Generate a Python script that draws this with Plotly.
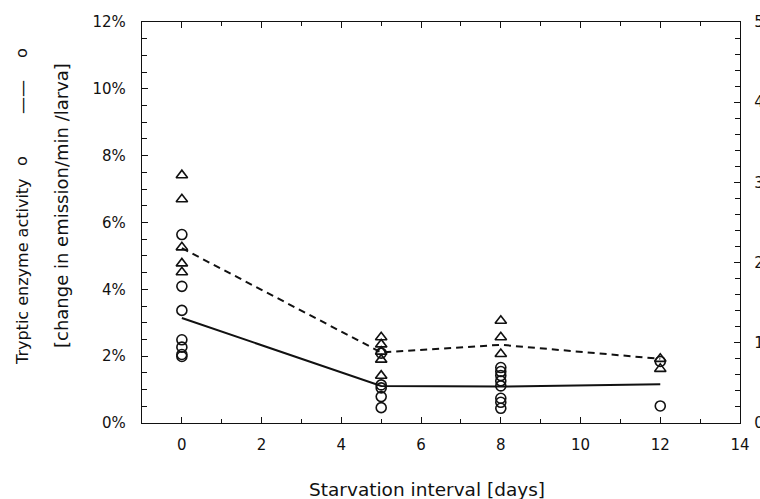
import plotly.graph_objects as go

# ---- data ----
days_circles = [0]*7 + [5]*5 + [8]*8 + [12]*2
tryptic_pct = [5.64, 4.09, 3.37, 2.49, 2.27, 2.05, 1.99,
               2.09, 1.14, 1.05, 0.79, 0.46,
               1.66, 1.54, 1.42, 1.26, 1.11, 0.74, 0.62, 0.44,
               1.84, 0.51]

days_triangles = [0]*5 + [5]*5 + [8]*3 + [12]*2
triangle_vals = [3.09, 2.79, 2.19, 1.99, 1.88,
                 1.07, 0.98, 0.89, 0.79, 0.59,
                 1.275, 1.07, 0.86,
                 0.80, 0.675]

mean_days = [0, 5, 8, 12]
tryptic_mean = [3.14, 1.11, 1.09, 1.16]
triangle_mean = [2.18, 0.88, 0.975, 0.80]

x_tickvals = [0, 2, 4, 6, 8, 10, 12, 14]
x_ticktext = ["0", "2", "4", "6", "8", "10", "12", "14"]
y_tickvals = [0, 2, 4, 6, 8, 10, 12]
y_ticktext = ["0%", "2%", "4%", "6%", "8%", "10%", "12%"]
y2_tickvals = [0, 1, 2, 3, 4, 5]
y2_ticktext = ["0", "1", "2", "3", "4", "5"]

# ---- geometry ----
W, H = 760, 499
L, R, T, B = 142, 20, 22, 76
PW, PH = W - L - R, H - T - B


def px(xp):
    return (xp - L) / PW


def py(yp):
    return (H - B - yp) / PH


FONT = "DejaVu Sans"
BLACK = "#111111"

fig = go.Figure()
fig.add_trace(go.Scatter(x=mean_days, y=triangle_mean, yaxis="y2", mode="lines",
                         line=dict(color=BLACK, width=2, dash="7px,5px"), hoverinfo="skip"))
fig.add_trace(go.Scatter(x=mean_days, y=tryptic_mean, mode="lines",
                         line=dict(color=BLACK, width=2), hoverinfo="skip"))
fig.add_trace(go.Scatter(x=days_triangles, y=triangle_vals, yaxis="y2", mode="markers",
                         marker=dict(symbol="triangle-up-open", size=10, color=BLACK,
                                     line=dict(width=1.6, color=BLACK))))
fig.add_trace(go.Scatter(x=days_circles, y=tryptic_pct, mode="markers",
                         marker=dict(symbol="circle-open", size=10, color=BLACK,
                                     line=dict(width=1.6, color=BLACK))))

axis_common = dict(showgrid=False, zeroline=False, showline=True, linecolor=BLACK,
                   linewidth=1.3, ticks="inside", tickcolor=BLACK, tickwidth=1,
                   tickfont=dict(family=FONT, size=15, color=BLACK))

fig.update_layout(
    width=W, height=H,
    margin=dict(l=L, r=R, t=T, b=B, autoexpand=False),
    paper_bgcolor="white", plot_bgcolor="white",
    showlegend=False,
    xaxis=dict(range=[-1, 14], tickvals=x_tickvals, ticktext=x_ticktext,
               ticklen=6, mirror="ticks", ticklabelstandoff=8,
               minor=dict(ticks="inside", dtick=1, tick0=0, ticklen=4,
                          tickcolor=BLACK), **axis_common),
    yaxis=dict(range=[0, 12], tickvals=y_tickvals, ticktext=y_ticktext,
               ticklen=6, ticklabelstandoff=12,
               minor=dict(ticks="inside", dtick=0.5, tick0=0, ticklen=5,
                          tickcolor=BLACK), **axis_common),
    yaxis2=dict(range=[0, 5], overlaying="y", side="right", tickvals=y2_tickvals,
                ticktext=y2_ticktext, ticklen=6, ticklabelstandoff=10, automargin=False,
                minor=dict(ticks="inside", dtick=0.2, tick0=0, ticklen=5,
                           tickcolor=BLACK), **axis_common),
)

ann = dict(xref="paper", yref="paper", showarrow=False, xanchor="center", yanchor="middle")
fig.add_annotation(text="Tryptic enzyme activity", x=px(22), y=py(272), textangle=-90,
                   font=dict(family=FONT, size=16, color=BLACK), **ann)
fig.add_annotation(text="o", x=px(22), y=py(161), textangle=-90,
                   font=dict(family=FONT, size=16, color=BLACK), **ann)
fig.add_annotation(text="——", x=px(22), y=py(97), textangle=-90,
                   font=dict(family=FONT, size=17, color=BLACK), **ann)
fig.add_annotation(text="o", x=px(22), y=py(53), textangle=-90,
                   font=dict(family=FONT, size=16, color=BLACK), **ann)
fig.add_annotation(text="[change in emission/min /larva]", x=px(62), y=py(206), textangle=-90,
                   font=dict(family=FONT, size=18, color=BLACK), **ann)
fig.add_annotation(text="Starvation interval [days]", x=px(427), y=py(490),
                   font=dict(family=FONT, size=18.5, color=BLACK), **ann)

fig.write_html("out.html", config={"displayModeBar": False},
               post_script="document.body.style.margin='0';document.body.style.overflow='hidden';")
